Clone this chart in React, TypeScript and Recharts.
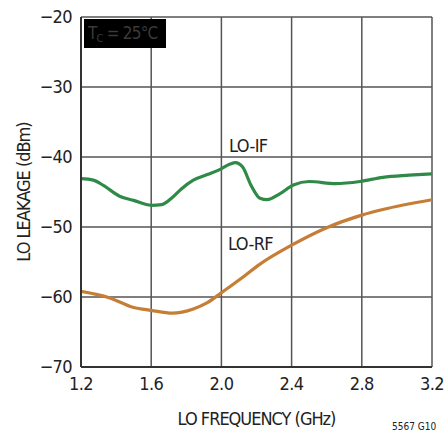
import React from 'react';
import { LineChart, Line, XAxis, YAxis, CartesianGrid, Label } from 'recharts';

const FONT = '"Liberation Sans Narrow", "DejaVu Sans Condensed", "Liberation Sans", sans-serif';

const freqTicks = [1.2, 1.6, 2.0, 2.4, 2.8, 3.2];
const leakTicks = [-70, -60, -50, -40, -30, -20];

// LO-IF leakage
const ifFreq = [1.2, 1.27, 1.33, 1.42, 1.5, 1.6, 1.66, 1.72, 1.77, 1.84, 1.92, 1.99, 2.05, 2.08, 2.12, 2.17, 2.22, 2.26, 2.33, 2.41, 2.5, 2.65, 2.79, 2.92, 3.07, 3.2];
const ifLeak = [-43.1, -43.3, -44.1, -45.6, -46.2, -46.9, -46.8, -45.8, -44.6, -43.3, -42.5, -41.8, -41.0, -40.8, -41.4, -44.1, -45.9, -46.1, -45.3, -44.0, -43.5, -43.8, -43.5, -42.9, -42.6, -42.4];

// LO-RF leakage
const rfFreq = [1.2, 1.36, 1.5, 1.6, 1.72, 1.84, 1.92, 2.0, 2.11, 2.22, 2.4, 2.6, 2.8, 2.92, 3.2];
const rfLeak = [-59.2, -60.1, -61.5, -61.9, -62.3, -61.7, -60.8, -59.4, -57.4, -55.3, -52.6, -50.1, -48.3, -47.5, -46.1];

const ifData = ifFreq.map((f, i) => ({ f, v: ifLeak[i] }));
const rfData = rfFreq.map((f, i) => ({ f, v: rfLeak[i] }));

const tickStyle = { fill: '#222', fontSize: 18, fontFamily: FONT, letterSpacing: -0.6 };
const titleStyle = { fill: '#222', fontSize: 18, fontFamily: FONT, letterSpacing: -1 };

const App = () => {
  return (
    <div style={{ position: 'absolute', left: 0, top: 0, width: 445, height: 436, background: '#fff', fontFamily: FONT, overflow: 'hidden' }}>
      <LineChart width={445} height={436} margin={{ top: 17, right: 13, left: 0, bottom: 0 }}>
        <CartesianGrid stroke="#555" strokeWidth={1.5} />
        <XAxis
          type="number"
          dataKey="f"
          domain={[1.2, 3.2]}
          ticks={freqTicks}
          allowDataOverflow
          tickFormatter={(v: number) => v.toFixed(1)}
          tick={tickStyle}
          tickSize={0}
          tickMargin={10}
          height={69}
          axisLine={{ stroke: '#333', strokeWidth: 2 }}
        >
          <Label value="LO FREQUENCY (GHz)" position="insideBottom" offset={11} style={{ ...titleStyle, textAnchor: 'middle' }} />
        </XAxis>
        <YAxis
          type="number"
          domain={[-70, -20]}
          ticks={leakTicks}
          allowDataOverflow
          tickFormatter={(v: number) => String(v).replace('-', '\u2212')}
          tick={tickStyle}
          tickSize={0}
          tickMargin={9}
          width={81}
          axisLine={{ stroke: '#333', strokeWidth: 2 }}
        >
          <Label value="LO LEAKAGE (dBm)" angle={-90} position="insideLeft" offset={24} style={{ ...titleStyle, textAnchor: 'middle' }} />
        </YAxis>
        <Line data={ifData} dataKey="v" type="monotone" stroke="#2F8A47" strokeWidth={3.2} dot={false} isAnimationActive={false} />
        <Line data={rfData} dataKey="v" type="monotone" stroke="#C67D35" strokeWidth={3.2} dot={false} isAnimationActive={false} />
      </LineChart>
      <div style={{ position: 'absolute', left: 84, top: 19, width: 82, height: 29, background: '#000', color: '#3a3a3a', fontSize: 17, letterSpacing: -0.8, lineHeight: '29px', paddingLeft: 4, boxSizing: 'border-box', whiteSpace: 'nowrap', overflow: 'hidden' }}>
        T<sub style={{ fontSize: 11, verticalAlign: -3 }}>C</sub> = 25°C
      </div>
      <div style={{ position: 'absolute', left: 229, top: 135, fontSize: 18, letterSpacing: -0.6, color: '#222' }}>LO-IF</div>
      <div style={{ position: 'absolute', left: 228, top: 233, fontSize: 18, letterSpacing: -0.6, color: '#222' }}>LO-RF</div>
      <div style={{ position: 'absolute', left: 392, top: 421, fontSize: 10, lineHeight: '12px', color: '#222', whiteSpace: 'nowrap' }}>5567 G10</div>
    </div>
  );
};

export default App;
